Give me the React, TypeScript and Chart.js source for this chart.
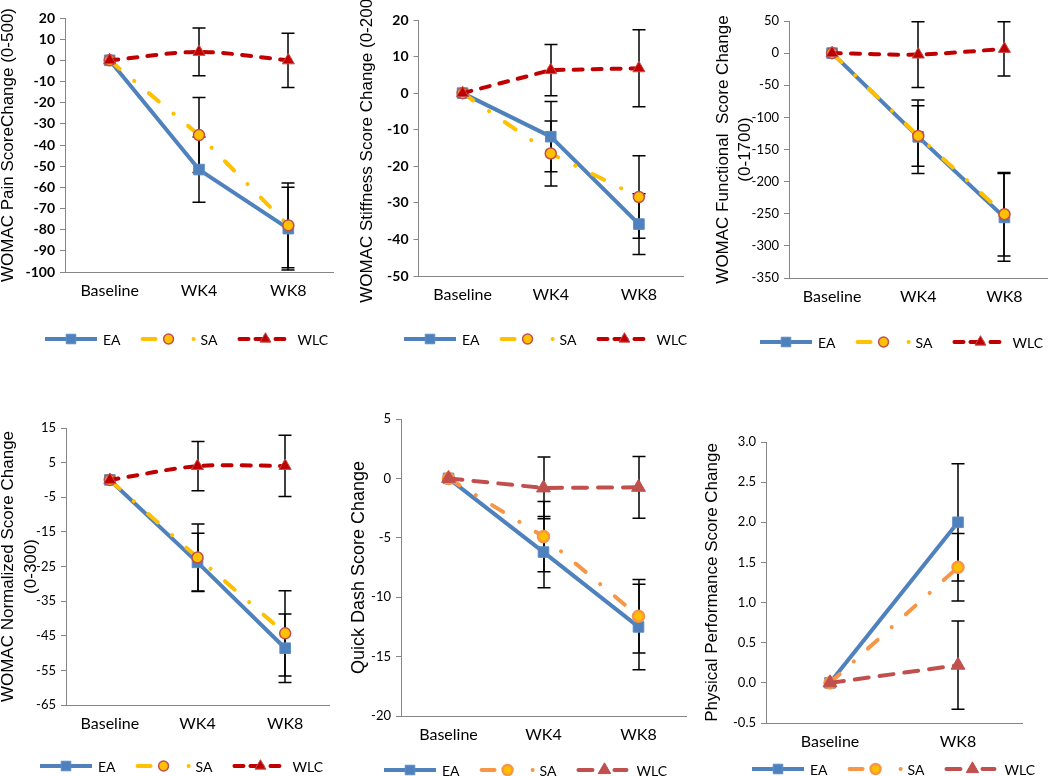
import React, { useEffect, useRef } from "react";
import { Chart, registerables } from "chart.js";

Chart.register(...registerables);

// ---------------- categories ----------------
const weekCategories = ["Baseline", "WK4", "WK8"];
const ppCategories = ["Baseline", "WK8"];
const seriesNames = ["EA", "SA", "WLC"];

// ---------------- WOMAC pain (0-500) ----------------
const painEA = [0, -51.6, -79.5];
const painEAErr = [0, 15.4, 19.5];
const painSA = [0, -35.3, -78];
const painSAErr = [0, 17.7, 20];
const painWLC = [0, 4, 0];
const painWLCErr = [0, 11.3, 12.8];
const painTicks = [-100, 20, 10];

// ---------------- WOMAC stiffness (0-200) ----------------
const stiffEA = [0, -11.9, -35.8];
const stiffEAErr = [0, 9.6, 8.3];
const stiffSA = [0, -16.5, -28.4];
const stiffSAErr = [0, 8.9, 11.3];
const stiffWLC = [0, 6.3, 6.8];
const stiffWLCErr = [0, 7, 10.5];
const stiffTicks = [-50, 20, 10];

// ---------------- WOMAC functional (0-1700) ----------------
const funcEA = [0, -130.3, -255.7];
const funcEAErr = [0, 57.2, 68.3];
const funcSA = [0, -129, -250.8];
const funcSAErr = [0, 47, 65];
const funcWLC = [0, -2.2, 6.6];
const funcWLCErr = [0, 51.2, 42.3];
const funcTicks = [-350, 50, 50];

// ---------------- WOMAC normalized (0-300) ----------------
const normEA = [0, -23.8, -48.6];
const normEAErr = [0, 8.4, 9.9];
const normSA = [0, -22.4, -44.3];
const normSAErr = [0, 9.7, 12.3];
const normWLC = [0, 4, 4.05];
const normWLCErr = [0, 7.1, 8.85];
const normTicks = [-65, 15, 10];

// ---------------- Quick Dash ----------------
const qdEA = [0, -6.2, -12.5];
const qdEAErr = [0, 3.0, 3.6];
const qdSA = [0, -4.9, -11.6];
const qdSAErr = [0, 2.95, 3.1];
const qdWLC = [0, -0.8, -0.75];
const qdWLCErr = [0, 2.6, 2.6];
const qdTicks = [-20, 5, 5];

// ---------------- Physical performance ----------------
const ppEA = [0, 2.0];
const ppEAErr = [0, 0.73];
const ppSA = [0, 1.44];
const ppSAErr = [0, 0.42];
const ppWLC = [0, 0.22];
const ppWLCErr = [0, 0.55];
const ppTicks = [-0.5, 3, 0.5];

// ---------------- styles ----------------
type Style = {
  color: string;
  dash: number[];
  legendDash: number[];
  cap: "butt" | "round";
  point: string;
  radius: number;
  fill: string;
  border: string;
  borderW: number;
  tension: number;
};

const eaStyle: Style = {
  color: "#4F81BD", dash: [], legendDash: [], cap: "butt", point: "rect",
  radius: 7.5, fill: "#4F81BD", border: "#5B8CC8", borderW: 1, tension: 0,
};
const saGold: Style = {
  color: "#FFC000", dash: [13, 19, 0.1, 19], legendDash: [13, 38, 0.1, 100], cap: "round",
  point: "circle", radius: 5.5, fill: "#FFC000", border: "#C0504D", borderW: 1.5, tension: 0,
};
const wlcDark: Style = {
  color: "#C00000", dash: [9, 10], legendDash: [9, 7, 12, 8, 9, 100], cap: "round",
  point: "triangle", radius: 7, fill: "#C00000", border: "#C0504D", borderW: 1, tension: 0,
};
const wlcDarkSmooth: Style = { ...wlcDark, tension: 0.3 };
const saOrange: Style = {
  color: "#F79646", dash: [13, 19, 0.1, 19], legendDash: [13, 38, 0.1, 100], cap: "round",
  point: "circle", radius: 5.5, fill: "#FFC000", border: "#F79646", borderW: 2.5, tension: 0,
};
const wlcMuted: Style = {
  color: "#C0504D", dash: [14, 11], legendDash: [14, 22, 12, 100], cap: "round",
  point: "triangle", radius: 8, fill: "#C0504D", border: "#C0504D", borderW: 1, tension: 0,
};

type Series = { data: number[]; errors: number[]; style: Style };

type PanelCfg = {
  left: number; top: number; width: number; height: number;
  area: [number, number, number, number]; // l, t, r, b in page coords
  categories: string[];
  series: Series[];
  ticks: number[];
  decimals: number;
  title: string | string[];
  titleSize: number;
  titleLH: number;
  titleX: number;
  tickSize: number;
  tickBold: boolean;
  legend: [number, number];
};

const panels: PanelCfg[] = [
  {
    left: 0, top: 0, width: 350, height: 390, area: [65, 18, 333, 272],
    categories: weekCategories,
    series: [
      { data: painEA, errors: painEAErr, style: eaStyle },
      { data: painSA, errors: painSAErr, style: saGold },
      { data: painWLC, errors: painWLCErr, style: wlcDarkSmooth },
    ],
    ticks: painTicks, decimals: 0,
    title: "WOMAC Pain ScoreChange (0-500)", titleSize: 17, titleLH: 1.2, titleX: 8,
    tickSize: 14, tickBold: true, legend: [43, 339],
  },
  {
    left: 350, top: 0, width: 350, height: 390, area: [418.5, 20, 683, 276],
    categories: weekCategories,
    series: [
      { data: stiffEA, errors: stiffEAErr, style: eaStyle },
      { data: stiffSA, errors: stiffSAErr, style: saGold },
      { data: stiffWLC, errors: stiffWLCErr, style: wlcDark },
    ],
    ticks: stiffTicks, decimals: 0,
    title: "WOMAC Stiffness Score Change (0-200)", titleSize: 17, titleLH: 1.2, titleX: 367,
    tickSize: 14, tickBold: true, legend: [402, 339],
  },
  {
    left: 700, top: 0, width: 356, height: 390, area: [789, 21, 1052, 278],
    categories: weekCategories,
    series: [
      { data: funcEA, errors: funcEAErr, style: eaStyle },
      { data: funcSA, errors: funcSAErr, style: saGold },
      { data: funcWLC, errors: funcWLCErr, style: wlcDarkSmooth },
    ],
    ticks: funcTicks, decimals: 0,
    title: ["WOMAC Functional  Score Change", "(0-1700)"], titleSize: 17, titleLH: 1.3, titleX: 723,
    tickSize: 13, tickBold: false, legend: [758, 342],
  },
  {
    left: 0, top: 390, width: 350, height: 386, area: [66, 428, 329, 705],
    categories: weekCategories,
    series: [
      { data: normEA, errors: normEAErr, style: eaStyle },
      { data: normSA, errors: normSAErr, style: saGold },
      { data: normWLC, errors: normWLCErr, style: wlcDarkSmooth },
    ],
    ticks: normTicks, decimals: 0,
    title: ["WOMAC Normalized Score Change", "(0-300)"], titleSize: 17, titleLH: 1.35, titleX: 8,
    tickSize: 13, tickBold: false, legend: [38, 766],
  },
  {
    left: 350, top: 390, width: 350, height: 386, area: [401, 419, 686, 716],
    categories: weekCategories,
    series: [
      { data: qdEA, errors: qdEAErr, style: eaStyle },
      { data: qdSA, errors: qdSAErr, style: saOrange },
      { data: qdWLC, errors: qdWLCErr, style: wlcMuted },
    ],
    ticks: qdTicks, decimals: 0,
    title: "Quick Dash Score Change", titleSize: 18, titleLH: 1.2, titleX: 359.5,
    tickSize: 13, tickBold: false, legend: [382, 770],
  },
  {
    left: 700, top: 390, width: 350, height: 386, area: [766, 442, 1022, 723],
    categories: ppCategories,
    series: [
      { data: ppEA, errors: ppEAErr, style: eaStyle },
      { data: ppSA, errors: ppSAErr, style: saOrange },
      { data: ppWLC, errors: ppWLCErr, style: wlcMuted },
    ],
    ticks: ppTicks, decimals: 1,
    title: "Physical Performance Score Change", titleSize: 17, titleLH: 1.2, titleX: 712.5,
    tickSize: 13, tickBold: false, legend: [750, 769],
  },
];

const X_AXIS_H = 40;
const AXIS_GRAY = "#868686";

function drawMarker(ctx: CanvasRenderingContext2D, style: string, x: number, y: number, r: number, fill: string, stroke: string, bw: number) {
  ctx.beginPath();
  if (style === "rect") {
    const s = r * Math.SQRT1_2;
    ctx.rect(x - s, y - s, 2 * s, 2 * s);
  } else if (style === "circle") {
    ctx.arc(x, y, r, 0, Math.PI * 2);
  } else {
    let rad = 0;
    ctx.moveTo(x + Math.sin(rad) * r, y - Math.cos(rad) * r);
    rad += (2 * Math.PI) / 3;
    ctx.lineTo(x + Math.sin(rad) * r, y - Math.cos(rad) * r);
    rad += (2 * Math.PI) / 3;
    ctx.lineTo(x + Math.sin(rad) * r, y - Math.cos(rad) * r);
    ctx.closePath();
  }
  ctx.fillStyle = fill;
  ctx.fill();
  ctx.lineWidth = bw;
  ctx.strokeStyle = stroke;
  ctx.setLineDash([]);
  ctx.stroke();
}

const errorBarPlugin = {
  id: "errorBars",
  beforeDatasetsDraw(chart: any) {
    const { ctx } = chart;
    const yScale = chart.scales.y;
    ctx.save();
    ctx.strokeStyle = "#000";
    ctx.lineWidth = 1.5;
    ctx.setLineDash([]);
    chart.data.datasets.forEach((ds: any, i: number) => {
      const meta = chart.getDatasetMeta(i);
      (ds.errors || []).forEach((e: number, j: number) => {
        if (!e) return;
        const pt = meta.data[j];
        if (!pt) return;
        const v = ds.data[j];
        const x = Math.round(pt.x);
        const yT = yScale.getPixelForValue(v + e);
        const yB = yScale.getPixelForValue(v - e);
        ctx.beginPath();
        ctx.moveTo(x, yT);
        ctx.lineTo(x, yB);
        ctx.moveTo(x - 6.5, yT);
        ctx.lineTo(x + 6.5, yT);
        ctx.moveTo(x - 6.5, yB);
        ctx.lineTo(x + 6.5, yB);
        ctx.stroke();
      });
    });
    ctx.restore();
  },
};

const legendPlugin = {
  id: "excelLegend",
  afterDraw(chart: any, _args: any, opts: any) {
    const { ctx } = chart;
    let x = opts.x;
    const y = opts.y;
    ctx.save();
    chart.data.datasets.forEach((ds: any) => {
      ctx.beginPath();
      ctx.setLineDash(ds.legendDash || []);
      ctx.lineDashOffset = 0;
      ctx.lineCap = ds.borderCapStyle;
      ctx.strokeStyle = ds.borderColor;
      ctx.lineWidth = ds.borderWidth;
      ctx.moveTo(x + 2, y);
      ctx.lineTo(x + 54, y);
      ctx.stroke();
      ctx.lineCap = "butt";
      drawMarker(ctx, ds.pointStyle, x + 28, y, ds.pointRadius * 0.9, ds.pointBackgroundColor, ds.pointBorderColor, ds.pointBorderWidth);
      ctx.fillStyle = "#000";
      ctx.font = "14px Lato";
      ctx.textBaseline = "middle";
      ctx.textAlign = "left";
      ctx.fillText(ds.label, x + 60, y + 1);
      x += 60 + ctx.measureText(ds.label).width + 20;
    });
    ctx.restore();
  },
};

function Panel({ cfg }: { cfg: PanelCfg }) {
  const ref = useRef<HTMLCanvasElement | null>(null);
  useEffect(() => {
    const c = cfg;
    const canvas = ref.current;
    if (!canvas) return;
    const [al, at, ar, ab] = c.area;
    const yW = al - c.left;
    const padTop = at - c.top;
    const padRight = c.left + c.width - ar;
    const padBottom = c.top + c.height - ab - X_AXIS_H;
    const lh = c.titleSize * c.titleLH;
    const titlePad = c.titleX - c.left - lh / 2;
    const [yMin, yMax, yStep] = c.ticks;
    const n = c.series.length;

    const chart = new Chart(canvas, {
      type: "line",
      data: {
        labels: c.categories,
        datasets: c.series.map((s, i) => ({
          label: seriesNames[i],
          data: s.data,
          errors: s.errors,
          legendDash: s.style.legendDash,
          borderColor: s.style.color,
          backgroundColor: s.style.color,
          borderWidth: 4,
          borderDash: s.style.dash,
          borderCapStyle: s.style.cap,
          borderJoinStyle: "round",
          pointStyle: s.style.point,
          pointRadius: s.style.radius,
          pointBackgroundColor: s.style.fill,
          pointBorderColor: s.style.border,
          pointBorderWidth: s.style.borderW,
          tension: s.style.tension,
          fill: false,
          order: n - 1 - i,
          clip: false,
        })) as any,
      },
      options: {
        responsive: false,
        animation: false,
        devicePixelRatio: 1,
        events: [],
        layout: { padding: { left: 0, top: padTop, right: padRight, bottom: padBottom } },
        plugins: {
          legend: { display: false },
          tooltip: { enabled: false },
          excelLegend: { x: c.legend[0] - c.left, y: c.legend[1] - c.top },
        } as any,
        scales: {
          x: {
            type: "category",
            offset: true,
            grid: { display: false, drawTicks: false },
            border: { display: true, color: AXIS_GRAY, width: 1 },
            ticks: {
              color: "#000",
              font: { family: "Lato", size: 16 },
              padding: 9,
              maxRotation: 0,
              autoSkip: false,
            },
            afterFit: (s: any) => {
              s.height = X_AXIS_H;
            },
          },
          y: {
            type: "linear",
            min: yMin,
            max: yMax,
            grid: { drawOnChartArea: false, drawTicks: true, tickLength: 5, color: AXIS_GRAY },
            border: { display: true, color: AXIS_GRAY, width: 1 },
            ticks: {
              stepSize: yStep,
              autoSkip: false,
              color: "#000",
              padding: 5,
              font: { family: "Lato", size: c.tickSize, weight: c.tickBold ? "bold" : "normal" },
              callback: (v: any) => Number(v).toFixed(c.decimals),
            },
            title: {
              display: true,
              text: c.title,
              color: "#000",
              font: { family: "Liberation Sans", size: c.titleSize, lineHeight: c.titleLH },
              padding: { top: titlePad, bottom: 0 },
            },
            afterFit: (s: any) => {
              s.width = yW;
            },
          },
        },
      } as any,
      plugins: [errorBarPlugin, legendPlugin],
    });
    return () => chart.destroy();
  }, [cfg]);

  return (
    <canvas
      ref={ref}
      width={cfg.width}
      height={cfg.height}
      style={{ position: "absolute", left: cfg.left, top: cfg.top, width: cfg.width, height: cfg.height }}
    />
  );
}

export default function App() {
  return (
    <div
      style={{
        position: "absolute",
        left: 0,
        top: 0,
        width: 1050,
        height: 776,
        overflow: "hidden",
        background: "#ffffff",
      }}
    >
      {panels.map((p, i) => (
        <Panel key={i} cfg={p} />
      ))}
    </div>
  );
}
